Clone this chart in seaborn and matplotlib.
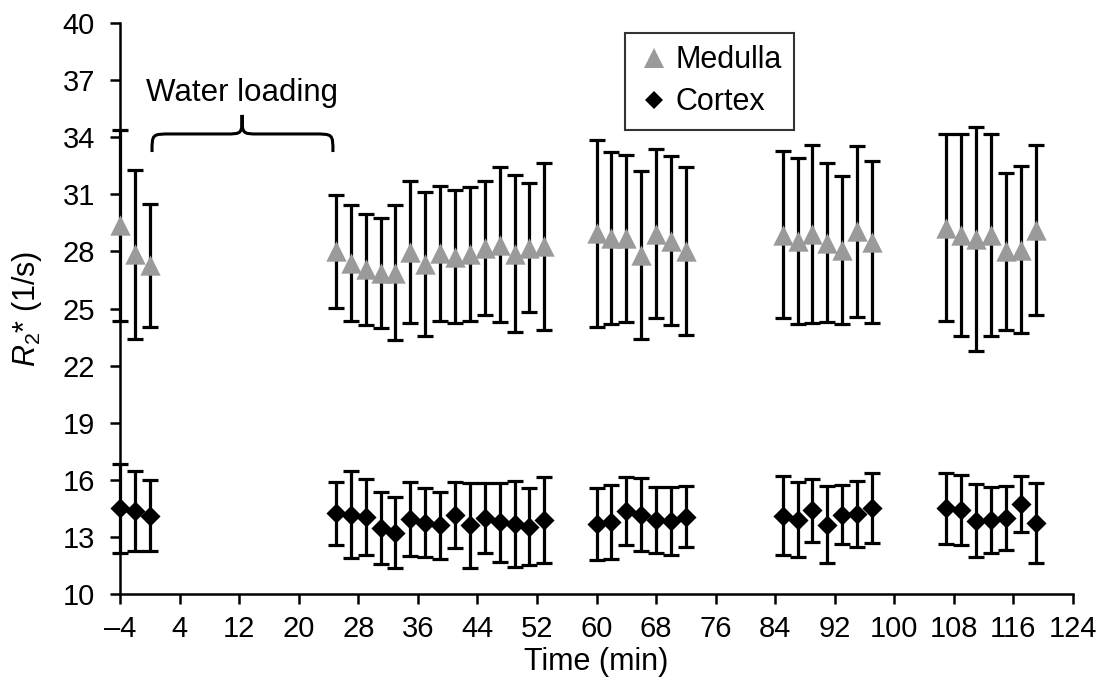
import numpy as np
import pandas as pd
import matplotlib
matplotlib.use("Agg")
import matplotlib.pyplot as plt
import seaborn as sns
from matplotlib.path import Path
from matplotlib.patches import PathPatch
from matplotlib.lines import Line2D

# ---------------- data ----------------
time_min = [-4, -2, 0,
            25, 27, 29, 31, 33, 35, 37, 39, 41, 43, 45, 47, 49, 51, 53,
            60, 62, 64, 66, 68, 70, 72,
            85, 87, 89, 91, 93, 95, 97,
            107, 109, 111, 113, 115, 117, 119]

medulla_mean = [29.37, 27.84, 27.27,
                28.00, 27.40, 27.05, 26.85, 26.89, 27.97, 27.34, 27.90, 27.72, 27.88, 28.19, 28.36, 27.87, 28.20, 28.27,
                28.95, 28.71, 28.68, 27.82, 28.92, 28.57, 28.03,
                28.88, 28.54, 28.92, 28.46, 28.07, 29.05, 28.49,
                29.25, 28.85, 28.66, 28.85, 28.00, 28.09, 29.12]
medulla_err = [5.03, 4.44, 3.22,
               2.95, 3.04, 2.90, 2.90, 3.55, 3.75, 3.79, 3.54, 3.50, 3.52, 3.53, 4.06, 4.13, 3.40, 4.40,
               4.90, 4.50, 4.38, 4.42, 4.44, 4.44, 4.43,
               4.40, 4.36, 4.67, 4.17, 3.89, 4.48, 4.27,
               4.90, 5.30, 5.90, 5.30, 4.13, 4.40, 4.47]

cortex_mean = [14.50, 14.37, 14.12,
               14.23, 14.17, 14.06, 13.47, 13.23, 13.95, 13.75, 13.60, 14.15, 13.60, 13.99, 13.77, 13.69, 13.54, 13.88,
               13.67, 13.77, 14.37, 14.17, 13.90, 13.84, 14.06,
               14.12, 13.91, 14.40, 13.64, 14.17, 14.20, 14.53,
               14.50, 14.41, 13.85, 13.88, 14.00, 14.73, 13.74]
cortex_err = [2.33, 2.10, 1.86,
              1.67, 2.30, 2.00, 1.90, 1.88, 1.96, 1.80, 1.78, 1.75, 2.25, 1.86, 2.07, 2.26, 2.02, 2.25,
              1.88, 1.95, 1.80, 1.90, 1.73, 1.80, 1.60,
              2.08, 1.99, 1.66, 2.03, 1.55, 1.75, 1.84,
              1.87, 1.84, 1.93, 1.75, 1.67, 1.47, 2.10]

x_ticks = [-4, 4, 12, 20, 28, 36, 44, 52, 60, 68, 76, 84, 92, 100, 108, 116, 124]
x_tick_labels = ["\u20134", "4", "12", "20", "28", "36", "44", "52", "60", "68",
                 "76", "84", "92", "100", "108", "116", "124"]
y_ticks = [10, 13, 16, 19, 22, 25, 28, 31, 34, 37, 40]

series_names = ["Medulla", "Cortex"]

# ---------------- style ----------------
sns.set_style("ticks")
plt.rcParams["font.family"] = ["Liberation Sans", "DejaVu Sans"]
plt.rcParams["mathtext.fontset"] = "custom"
plt.rcParams["mathtext.rm"] = "Liberation Sans"
plt.rcParams["mathtext.it"] = "Liberation Sans:italic"
plt.rcParams["text.color"] = "black"
plt.rcParams["axes.labelcolor"] = "black"

df = pd.DataFrame({
    "time": time_min * 2,
    "value": medulla_mean + cortex_mean,
    "region": [series_names[0]] * len(time_min) + [series_names[1]] * len(time_min),
})

fig = plt.figure(figsize=(11.1, 6.84), dpi=100)
ax = fig.add_axes([120 / 1110, 1 - 594 / 684, (1073 - 120) / 1110, (594 - 23) / 684])

eb_kw = dict(fmt="none", ecolor="black", elinewidth=2.3, capsize=6, capthick=2.3,
             zorder=2, clip_on=False)
ax.errorbar(time_min, medulla_mean, yerr=medulla_err, **eb_kw)
ax.errorbar(time_min, cortex_mean, yerr=cortex_err, **eb_kw)

palette = {"Medulla": "#9a9a9a", "Cortex": "black"}
sns.scatterplot(data=df[df.region == "Medulla"], x="time", y="value", color=palette["Medulla"],
                marker="^", s=215, linewidth=0, ax=ax, zorder=3, legend=False, clip_on=False)
sns.scatterplot(data=df[df.region == "Cortex"], x="time", y="value", color=palette["Cortex"],
                marker="D", s=105, linewidth=0, ax=ax, zorder=3, legend=False, clip_on=False)

ax.set_xlim(-4, 124)
ax.set_ylim(10, 40)
ax.set_xticks(x_ticks)
ax.set_xticklabels(x_tick_labels)
ax.set_yticks(y_ticks)
ax.tick_params(axis="both", which="major", direction="out", length=7, width=1.8,
               labelsize=21, colors="black")
ax.tick_params(axis="y", pad=11)
ax.tick_params(axis="x", pad=8)
for side in ["top", "right"]:
    ax.spines[side].set_visible(False)
for side in ["left", "bottom"]:
    ax.spines[side].set_linewidth(1.8)
    ax.spines[side].set_color("black")

ax.set_xlabel("Time (min)", fontsize=22, labelpad=3)
ax.set_ylabel(r"$R_2$* (1/s)", fontsize=22, labelpad=13)

# legend
handles = [
    Line2D([], [], linestyle="none", marker="^", markersize=14, color=palette["Medulla"], markeredgewidth=0),
    Line2D([], [], linestyle="none", marker="D", markersize=9.5, color=palette["Cortex"], markeredgewidth=0),
]
leg = ax.legend(handles, series_names, loc="upper left",
                bbox_to_anchor=(625 / 1110, 1 - 33 / 684), bbox_transform=fig.transFigure,
                borderaxespad=0, frameon=True, fancybox=False, fontsize=22,
                handletextpad=0.15, handlelength=1.1, borderpad=0.4, labelspacing=0.4)
leg.get_frame().set_edgecolor("black")
leg.get_frame().set_linewidth(1.5)

# "Water loading" annotation with curly brace
ax.text(12.4, 36.3, "Water loading", ha="center", va="center", fontsize=22.5)
xl, xr, xm = 0.3, 24.6, 12.4
yb, yh, yt = 33.22, 34.17, 35.17
dx = 2.6
dm = 2.2
verts = [(xl, yb), (xl, yh), (xl, yh), (xl + dx, yh),
         (xm - dm, yh), (xm, yh), (xm, yh), (xm, yt),
         (xm, yh), (xm, yh), (xm + dm, yh),
         (xr - dx, yh), (xr, yh), (xr, yh), (xr, yb)]
codes = [Path.MOVETO, Path.CURVE4, Path.CURVE4, Path.CURVE4,
         Path.LINETO, Path.CURVE4, Path.CURVE4, Path.CURVE4,
         Path.CURVE4, Path.CURVE4, Path.CURVE4,
         Path.LINETO, Path.CURVE4, Path.CURVE4, Path.CURVE4]
ax.add_patch(PathPatch(Path(verts, codes), facecolor="none", edgecolor="black",
                       linewidth=2.2, clip_on=False))

fig.savefig("out.png", dpi=100)
